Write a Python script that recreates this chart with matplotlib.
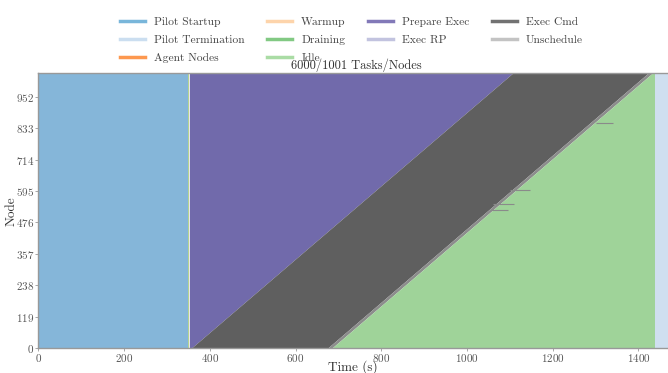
import numpy as np
import matplotlib.pyplot as plt
from matplotlib.lines import Line2D

plt.rcParams['font.family'] = ['cmr10', 'DejaVu Serif']
plt.rcParams['axes.formatter.use_mathtext'] = True
plt.rcParams['mathtext.fontset'] = 'cm'

# states and colours
states = ['Pilot Startup', 'Pilot Termination', 'Agent Nodes', 'Warmup', 'Draining',
          'Idle', 'Prepare Exec', 'Exec RP', 'Exec Cmd', 'Unschedule']
colors = ['#6baed6', '#c6dbef', '#fd8d3c', '#fdd0a2', '#74c476',
          '#a1d99b', '#756bb1', '#bcbddc', '#636363', '#bdbdbd']

# node range (bottom, top) and state boundaries in seconds at those nodes
nodes = [0, 1040]
startup_end = [348, 348]
warmup_end = [352, 352]
prep_end = [356, 1106]
exec_end = [674, 1422]
unsched_end = [684, 1432]
idle_end = [1438, 1438]
term_end = [1480, 1480]

# a few stray long tasks: (node, start, end)
stray = [(599, 1100, 1147), (546, 1060, 1109), (523, 1055, 1095), (853, 1302, 1340)]

yticks = [0, 119, 238, 357, 476, 595, 714, 833, 952]
xticks = [0, 200, 400, 600, 800, 1000, 1200, 1400]

fig = plt.figure(figsize=(6.68, 3.73), dpi=100)
ax = fig.add_axes([0.0576, 0.0662, 0.9424, 0.7373])

zero = [0, 0]
ax.fill_betweenx(nodes, zero, startup_end, color='#85b6d9', lw=0)
ax.fill_betweenx(nodes, startup_end, warmup_end, color='#b6d48f', lw=0)
ax.fill_betweenx(nodes, warmup_end, prep_end, color='#716aab', lw=0)
ax.fill_betweenx(nodes, prep_end, exec_end, color='#5f5f5f', lw=0)
ax.fill_betweenx(nodes, exec_end, unsched_end, color='#8c8c8c', lw=0)
ax.fill_betweenx(nodes, unsched_end, idle_end, color='#9fd399', lw=0)
ax.fill_betweenx(nodes, idle_end, term_end, color='#cfdff0', lw=0)
for n, s, e in stray:
    ax.hlines(n, s, e, color='#8a8a8a', lw=0.8)

ax.set_xlim(0, 1469)
ax.set_ylim(0, 1040)
ax.set_xticks(xticks)
ax.set_yticks(yticks)
ax.tick_params(labelsize=8, length=2.5, width=0.6, color='#999999', pad=0.5, labelcolor='#555555')
for side in ['left', 'bottom', 'top']:
    ax.spines[side].set_color('#999999')
    ax.spines[side].set_linewidth(1.0)
ax.spines['right'].set_visible(False)
ax.set_xlabel('Time (s)', fontsize=9.5, color='#333333')
ax.set_ylabel('Node', fontsize=9.5, color='#333333')
ax.xaxis.set_label_coords(0.5, -0.042)
ax.yaxis.set_label_coords(-0.033, 0.5)

fig.text(0.534, 0.814, '6000/1001 Tasks/Nodes', ha='center', va='baseline', fontsize=9, color='#333333')

handles = [Line2D([], [], color=col, lw=2.5, alpha=0.9) for col in colors]
fig.legend(handles, states, ncol=4, loc='center', bbox_to_anchor=(0.526, 0.893),
           frameon=False, fontsize=8.3, handlelength=2.2, columnspacing=1.9,
           labelspacing=0.7, handletextpad=0.8, labelcolor='#444444')

fig.savefig('out.png', dpi=100)
